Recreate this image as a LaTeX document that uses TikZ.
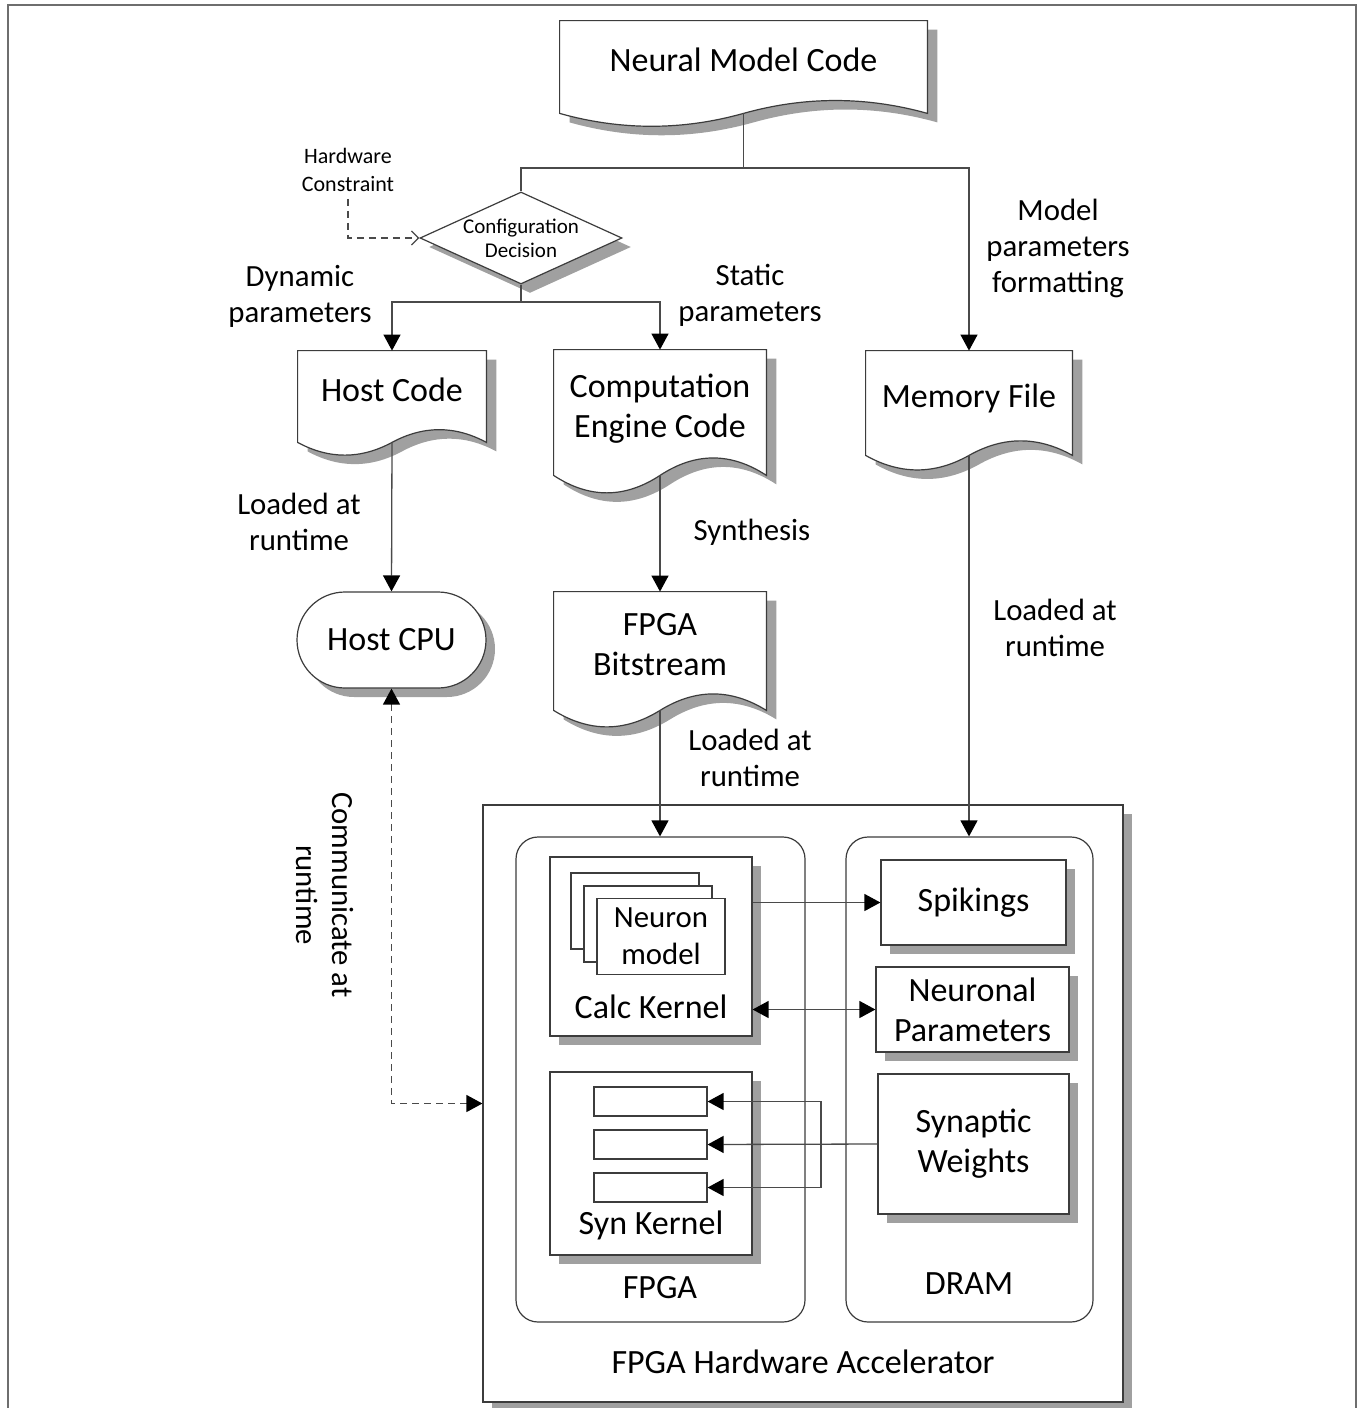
\documentclass[tikz,border=0pt]{standalone}
\usepackage{fontspec}
\setmainfont{Carlito}
\usetikzlibrary{shapes.geometric,arrows.meta,shadows,calc,positioning}

\definecolor{shadowgray}{HTML}{A0A0A0}
\definecolor{outline}{HTML}{3C3C3C}
\definecolor{wiregray}{HTML}{4A4A4A}
\definecolor{framegray}{HTML}{6E6E6E}

\pgfdeclarelayer{background}
\pgfsetlayers{background,main}

% wavy document outline round a node, shifted by #2,#3
\newcommand{\wavepath}[3]{%
  let \p1=(#1.north west), \p2=(#1.south east),
      \n1={\x2-\x1}, \n2={0.185*(\y1-\y2)} in
  ({\x1+(#2)},{\y1+(#3)}) -- ({\x2+(#2)},{\y1+(#3)}) -- ({\x2+(#2)},{\y2+(#3)})
  .. controls ({\x2-\n1/6+(#2)},{\y2+\n2+(#3)}) and ({\x2-\n1/3+(#2)},{\y2+\n2+(#3)})
  .. ({\x1+\n1/2+(#2)},{\y2+(#3)})
  .. controls ({\x1+\n1/3+(#2)},{\y2-\n2+(#3)}) and ({\x1+\n1/6+(#2)},{\y2-\n2+(#3)})
  .. ({\x1+(#2)},{\y2+(#3)}) -- cycle}
\newcommand{\docshape}[1]{%
  \fill[shadowgray] \wavepath{#1}{5pt}{-4.5pt};
  \filldraw[fill=white, draw=outline, line width=0.6pt] \wavepath{#1}{0pt}{0pt};}

\tikzset{
  bigtext/.style={font=\fontsize{17}{20}\selectfont, align=center},
  lbltext/.style={font=\fontsize{15.4}{18}\selectfont, align=center},
  smalltext/.style={font=\fontsize{10.5}{12}\selectfont, align=center},
  docnode/.style={bigtext, draw=none, inner sep=0pt, text depth=7pt},
  dropshade/.style={drop shadow={shadow xshift=4.5pt, shadow yshift=-4.5pt, fill=shadowgray, opacity=1}},
  blockbox/.style={draw=outline, fill=white, line width=0.6pt, inner sep=0pt, bigtext},
  panel/.style={draw=outline, line width=0.6pt, rounded corners=11pt},
  wire/.style={draw=wiregray, line width=0.65pt},
  tip/.style={-{Triangle[length=8pt,width=8.5pt,color=black]}},
  flowarrow/.style={wire, tip},
  dasharrow/.style={wire, dash pattern=on 3.5pt off 2.5pt},
}

\begin{document}
\begin{tikzpicture}[x=0.5pt, y=-0.5pt]
\useasboundingbox (0,0) rectangle (1360,1408);
\draw[framegray, line width=1.1pt] (8,1420) -- (8,5) -- (1356,5) -- (1356,1420);

% code documents
\node[docnode, minimum width=183.5pt, minimum height=46pt] (neural) at (743.5,67) {Neural Model Code};
\node[dropshade, diamond, draw=outline, fill=white, line width=0.6pt, smalltext, aspect=2.2,
      inner xsep=0pt, inner ysep=-5pt, minimum width=101pt, minimum height=46pt] (config) at (521,238) {Configuration\\Decision};
\node[smalltext, font=\fontsize{11}{14}\selectfont] (hwlimit) at (348,170) {Hardware\\Constraint};
\node[docnode, minimum width=94pt, minimum height=45.5pt] (host) at (392,396.5) {Host Code};
\node[docnode, minimum width=106pt, minimum height=62.5pt] (engine) at (660,412.5) {Computation\\Engine Code};
\node[docnode, minimum width=103pt, minimum height=52pt] (memfile) at (969,403) {Memory File};
\node[blockbox, dropshade, rounded corners=24pt, minimum width=94.5pt, minimum height=48pt] (cpu) at (391.5,640) {Host CPU};
\node[docnode, minimum width=106pt, minimum height=59pt] (bitstream) at (660,651) {FPGA\\Bitstream};

\begin{pgfonlayer}{background}
  \docshape{neural}
  \docshape{host}
  \docshape{engine}
  \docshape{memfile}
  \docshape{bitstream}
\end{pgfonlayer}

% edge labels
\node[lbltext] (dynlabel) at (300,296) {Dynamic\\parameters};
\node[lbltext] (statlabel) at (750,295) {Static\\parameters};
\node[lbltext] (fmtlabel) at (1058,248) {Model\\parameters\\formatting};
\node[lbltext] (hostload) at (299,522) {Loaded at\\runtime};
\node[lbltext] (synthlabel) at (752,532) {Synthesis};
\node[lbltext] (bitload) at (750,758) {Loaded at\\runtime};
\node[lbltext] (memload) at (1055,628) {Loaded at\\runtime};
\node[lbltext, rotate=-90] (commlabel) at (325,895) {Communicate at\\runtime};

% accelerator
\node[draw=outline, line width=0.6pt, fill=white, dropshade, minimum width=320pt, minimum height=298.5pt] (accel) at (803,1103.5) {};
\node[bigtext] (accellabel) at (803,1362) {FPGA Hardware Accelerator};
\node[panel, minimum width=144.5pt, minimum height=242.5pt] (fpga) at (660.5,1079.5) {};
\node[bigtext] (fpgalabel) at (660,1288) {FPGA};
\node[panel, minimum width=123.5pt, minimum height=242.5pt] (dram) at (969.5,1079.5) {};
\node[bigtext] (dramlabel) at (969,1284) {DRAM};

\node[blockbox, dropshade, minimum width=101pt, minimum height=89.5pt] (calc) at (651,946.5) {};
\node[bigtext] (calclabel) at (651,1007) {Calc Kernel};
\node[blockbox, minimum width=64pt, minimum height=38pt] (neuronback) at (635,911) {};
\node[blockbox, minimum width=64pt, minimum height=38pt] (neuronmid) at (648,924) {};
\node[blockbox, font=\fontsize{15.4}{18.5}\selectfont, minimum width=64pt, minimum height=38pt] (neuron) at (661,936.5) {Neuron\\model};

\node[blockbox, dropshade, minimum width=101pt, minimum height=91.5pt] (syn) at (651,1163.5) {};
\node[bigtext] (synlabel) at (651,1225) {Syn Kernel};
\node[blockbox, minimum width=56.5pt, minimum height=14.5pt] (slota) at (650.5,1101.5) {};
\node[blockbox, minimum width=56.5pt, minimum height=14.5pt] (slotb) at (650.5,1144.5) {};
\node[blockbox, minimum width=56.5pt, minimum height=14.5pt] (slotc) at (650.5,1187.5) {};

\node[blockbox, dropshade, minimum width=92.5pt, minimum height=42.5pt] (spikes) at (973.5,902.5) {Spikings};
\node[blockbox, dropshade, minimum width=96.5pt, minimum height=42.5pt] (neuparams) at (972.5,1009.5) {Neuronal\\Parameters};
\node[blockbox, dropshade, minimum width=95.5pt, minimum height=70pt] (weights) at (973.5,1144) {Synaptic\\Weights};

% connectors
\coordinate (topsplit) at (743.5,168);
\coordinate (midsplit) at (521,302);
\coordinate (synsplit) at (821,1144);

\draw[wire] (neural.south) -- (topsplit);
\draw[wire] (topsplit) -| (config.north);
\draw[flowarrow] (topsplit) -| (memfile.north);
\draw[wire] (config.south) -- (midsplit);
\draw[flowarrow] (midsplit) -| (host.north);
\draw[flowarrow] (midsplit) -| (engine.north);
\draw[dasharrow, -{Straight Barb[length=3.5pt,width=7pt]}] (hwlimit.south) |- (config.west);
\draw[flowarrow] (host.south) -- (cpu.north);
\draw[flowarrow] (engine.south) -- (bitstream.north);
\draw[flowarrow] (bitstream.south) -- (bitstream.south |- fpga.north);
\draw[flowarrow] (memfile.south) -- (memfile.south |- dram.north);
\draw[dasharrow, {Triangle[length=8pt,width=8.5pt,color=black]}-{Triangle[length=8pt,width=8.5pt,color=black]}] (cpu.south) |- (accel.west);
\draw[flowarrow] (calc.east |- spikes.west) -- (spikes.west);
\draw[wire, {Triangle[length=8pt,width=8.5pt,color=black]}-{Triangle[length=8pt,width=8.5pt,color=black]}] (calc.east |- neuparams.west) -- (neuparams.west);
\draw[flowarrow] (weights.west) -- (slotb.east);
\draw[flowarrow] (synsplit) |- (slota.east);
\draw[flowarrow] (synsplit) |- (slotc.east);
\end{tikzpicture}
\end{document}
